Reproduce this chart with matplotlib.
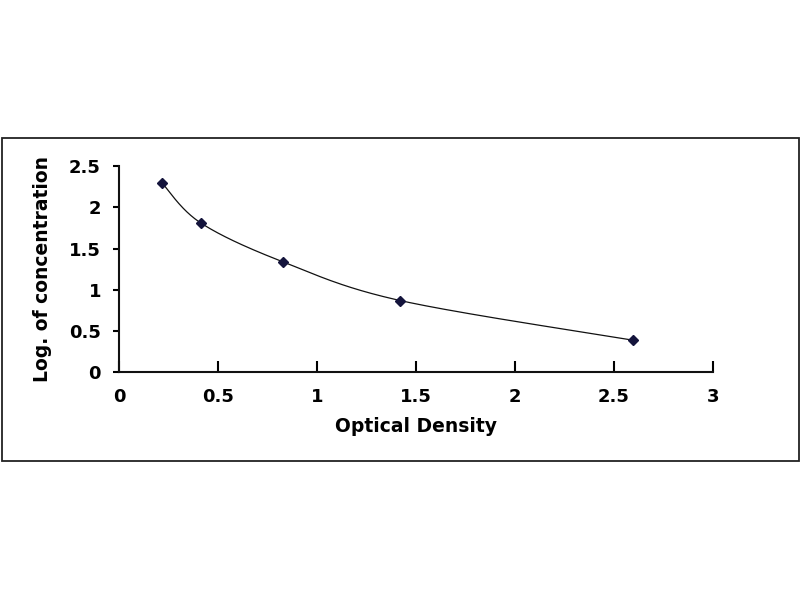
import numpy as np
import matplotlib.pyplot as plt
from matplotlib.patches import Rectangle

# --- DATA ---
od = [0.219, 0.413, 0.827, 1.420, 2.595]
log_conc = [2.29, 1.81, 1.34, 0.87, 0.39]
x_ticks = [0, 0.5, 1, 1.5, 2, 2.5, 3]
y_ticks = [0, 0.5, 1, 1.5, 2, 2.5]


def smooth_curve(x, y, n=40):
    # Excel-style smoothed line (Catmull-Rom -> cubic Bezier)
    x = np.asarray(x, float)
    y = np.asarray(y, float)
    px = np.concatenate([[x[0]], x, [x[-1]]])
    py = np.concatenate([[y[0]], y, [y[-1]]])
    xs, ys = [], []
    t = np.linspace(0, 1, n)
    for i in range(1, len(px) - 2):
        p0 = np.array([px[i], py[i]])
        p3 = np.array([px[i + 1], py[i + 1]])
        p1 = p0 + (np.array([px[i + 1], py[i + 1]]) - np.array([px[i - 1], py[i - 1]])) / 6
        p2 = p3 - (np.array([px[i + 2], py[i + 2]]) - np.array([px[i], py[i]])) / 6
        b = ((1 - t) ** 3)[:, None] * p0 + (3 * (1 - t) ** 2 * t)[:, None] * p1 \
            + (3 * (1 - t) * t ** 2)[:, None] * p2 + (t ** 3)[:, None] * p3
        xs.extend(b[:, 0])
        ys.extend(b[:, 1])
    return xs, ys


plt.rcParams['font.family'] = ['DejaVu Sans']

fig = plt.figure(figsize=(8, 6), dpi=100)
fig.patches.append(Rectangle((2 / 800, 1 - 461 / 600), 797 / 800, 323 / 600,
                             transform=fig.transFigure, fill=False,
                             edgecolor='#222222', linewidth=1.3))

ax = fig.add_axes([119 / 800, 1 - 372.3 / 600, 593.7 / 800, 206.3 / 600])

cx, cy = smooth_curve(od, log_conc)
ax.plot(cx, cy, color='#111111', linewidth=0.9)
ax.plot(od, log_conc, linestyle='none', marker='D', markersize=5.5,
        color='#14143c')

ax.set_xlim(0, 3)
ax.set_ylim(0, 2.5)
ax.set_xticks(x_ticks)
ax.set_yticks(y_ticks)
ax.set_xticklabels([f'{v:g}' for v in x_ticks], fontsize=13, fontweight='heavy')
ax.set_yticklabels([f'{v:g}' for v in y_ticks], fontsize=13, fontweight='heavy')
ax.tick_params(axis='x', direction='in', length=8, width=1.5, pad=11)
ax.tick_params(axis='y', direction='out', length=4, width=1.5, pad=9)

for side in ['top', 'right']:
    ax.spines[side].set_visible(False)
for side in ['left', 'bottom']:
    ax.spines[side].set_linewidth(1.5)
    ax.spines[side].set_color('#111111')

ax.set_xlabel('Optical Density', fontsize=13.5, fontweight='heavy', labelpad=8)
ax.set_ylabel('Log. of concentration', fontsize=13.5, fontweight='heavy', labelpad=12)

fig.savefig('out.png', dpi=100)
